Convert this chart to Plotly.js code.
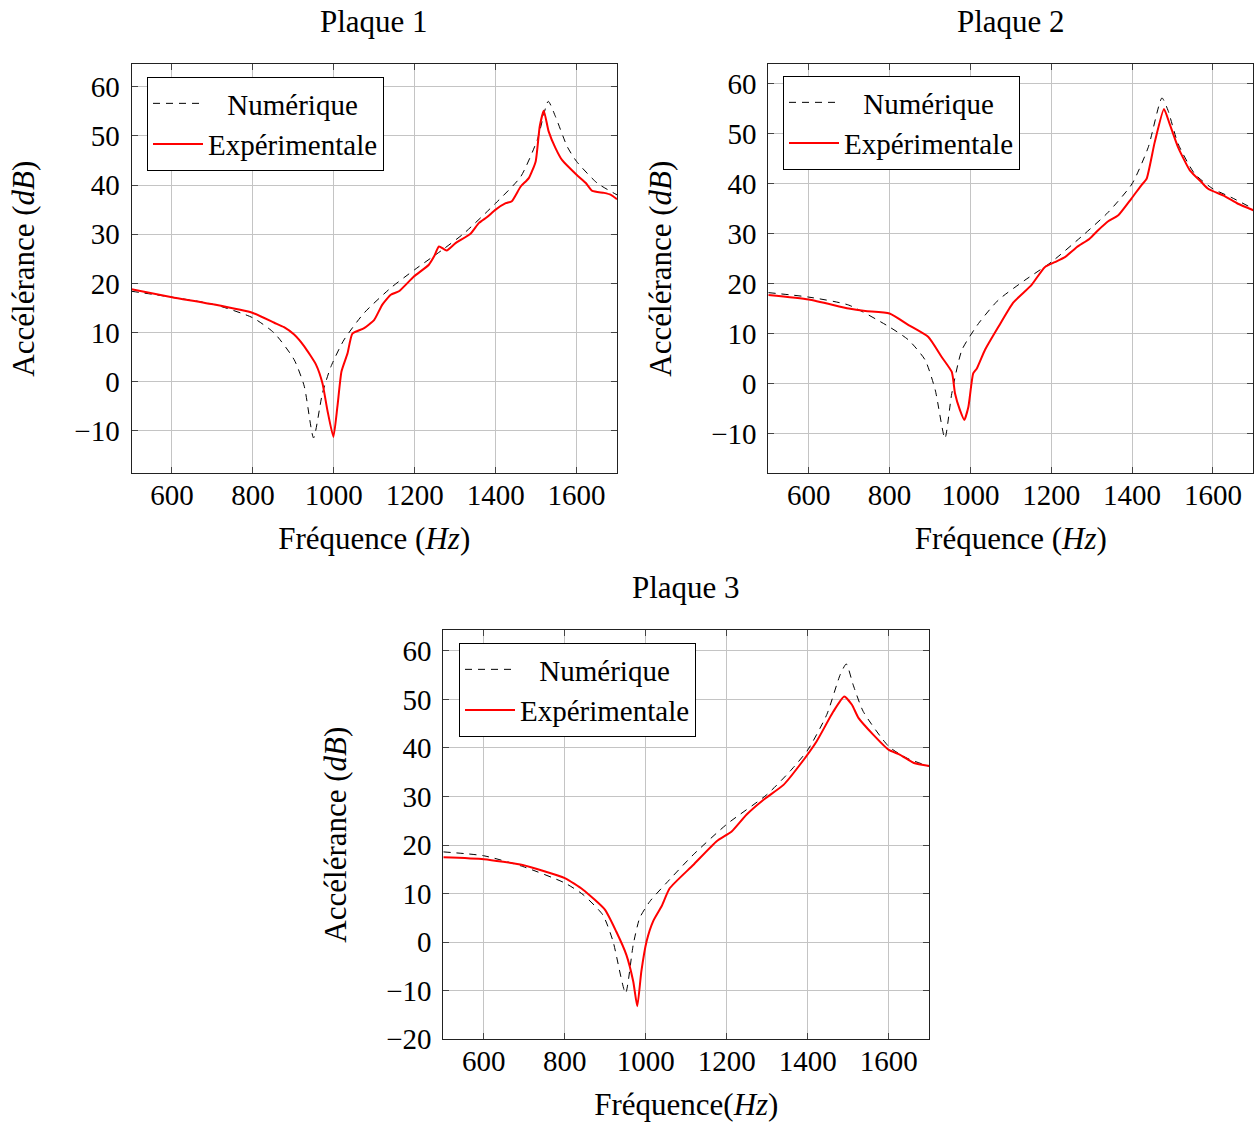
<!DOCTYPE html>
<html>
<head>
<meta charset="utf-8">
<script src="https://cdn.plot.ly/plotly-3.0.1.min.js"></script>
<style>html,body{margin:0;padding:0;background:#fff;}</style>
</head>
<body>
<div id="chart" style="width:1255px;height:1125px;"></div>
<script>
// Plaque 1
const p1NumFreq = [500,600,705,800,853,902,927,950,972,993,1025,1075,1141,1200,1268,1322,1400,1462,1503,1530,1548,1577,1600,1651,1700];
const p1NumDb   = [18.4,17.2,15.7,13.0,9.9,4.5,-0.9,-11.4,-2.3,3.1,8.5,14.0,19.1,22.8,26.8,30.2,36.3,41.7,49.2,57.0,53.9,47.8,44.8,40.4,38.0];
const p1ExpFreq = [500,600,705,800,853,877,902,927,956,972,984,999,1009,1019,1034,1046,1075,1100,1120,1141,1161,1198,1235,1248,1260,1279,1301,1338,1359,1379,1400,1425,1440,1462,1482,1499,1509,1519,1531,1548,1564,1600,1623,1639,1668,1685,1700];
const p1ExpDb   = [18.8,17.2,15.7,14.0,12.0,11.1,9.6,7.2,3.5,-0.3,-5.7,-11.2,-5.0,2.1,5.8,9.8,10.9,12.6,15.7,17.7,18.4,21.4,23.8,25.5,27.5,26.7,28.2,30.1,32.3,33.5,35.0,36.3,36.7,39.7,41.4,44.8,51.9,55.1,50.9,47.5,45.1,42.1,40.4,38.8,38.4,38.0,37.1];
// Plaque 2
const p2NumFreq = [500,600,699,800,847,888,913,937,954,979,1020,1069,1135,1200,1283,1341,1400,1440,1474,1489,1514,1555,1600,1645,1700];
const p2NumDb   = [18.2,17.3,15.7,11.3,8.7,4.7,-1.3,-11.0,-2.0,6.7,12.0,16.7,20.7,24.3,30.0,34.3,40.0,47.3,57.2,54.7,48.0,42.0,39.0,37.3,35.0];
const p2ExpFreq = [500,600,699,740,800,847,896,929,954,962,974,985,995,1007,1016,1036,1069,1106,1151,1184,1209,1234,1263,1295,1316,1341,1366,1398,1423,1436,1456,1479,1493,1514,1543,1572,1588,1630,1662,1700];
const p2ExpDb   = [17.7,16.8,15.0,14.5,14.0,11.7,9.3,5.3,2.3,-2.0,-5.3,-7.3,-4.7,2.0,3.0,6.7,11.3,16.2,19.7,23.3,24.3,25.3,27.3,29.0,30.7,32.5,33.7,37.0,39.7,41.0,48.3,55.0,52.0,47.3,42.7,40.3,39.0,37.5,36.0,34.7];
// Plaque 3
const p3NumFreq = [500,600,696,800,845,894,919,950,969,985,1010,1051,1117,1200,1299,1356,1400,1447,1480,1495,1512,1537,1600,1645,1700];
const p3NumDb   = [18.6,17.8,15.6,12.2,9.8,5.6,0.2,-10.5,-0.5,5.0,8.4,12.2,18.0,24.3,30.4,35.2,39.6,46.9,55.1,57.3,53.0,47.5,40.3,37.9,36.2];
const p3ExpFreq = [500,600,696,800,845,899,927,952,969,979,989,1002,1018,1039,1059,1117,1175,1212,1249,1290,1340,1381,1422,1463,1490,1509,1525,1562,1600,1628,1662,1700];
const p3ExpDb   = [17.5,17.1,15.9,13.2,10.8,6.7,2.2,-2.6,-8.1,-13.2,-6.0,0.2,4.3,7.4,11.1,15.9,20.8,22.8,26.3,29.3,32.4,36.6,41.4,47.5,50.6,48.9,46.2,42.7,39.6,38.6,36.9,36.3];

const titles = ['Plaque 1','Plaque 2','Plaque 3'];
const legendNames = ['\u2004\u2004Numérique','Expérimentale'];
const xTitles = ['Fréquence (<i>Hz</i>)','Fréquence (<i>Hz</i>)','Fréquence(<i>Hz</i>)'];
const yTitle = 'Accélérance (<i>dB</i>)';
const xTicks = [600,800,1000,1200,1400,1600];

const FONT = 'Liberation Serif, serif';
const FS = 31;   // text
const TS = 29;   // tick labels
const LS = 29;   // legend

const series = [
  [p1NumFreq,p1NumDb,p1ExpFreq,p1ExpDb],
  [p2NumFreq,p2NumDb,p2ExpFreq,p2ExpDb],
  [p3NumFreq,p3NumDb,p3ExpFreq,p3ExpDb]
];
const legendIds = ['legend','legend2','legend3'];
const traces = [];
series.forEach((s,i)=>{
  const xa = i===0?'x':'x'+(i+1), ya = i===0?'y':'y'+(i+1);
  traces.push({x:s[0],y:s[1],xaxis:xa,yaxis:ya,mode:'lines',name:legendNames[0],
    line:{color:'black',width:1,dash:'7px,6px',shape:'spline',smoothing:0.6},legend:legendIds[i]});
  traces.push({x:s[2],y:s[3],xaxis:xa,yaxis:ya,mode:'lines',name:legendNames[1],
    line:{color:'#ff0000',width:2,shape:'spline',smoothing:0.5},legend:legendIds[i]});
});

const W=1255,H=1125;
const dom = [
  {x:[131.5/W,617/W], y:[1-473.3/H,1-64/H], yr:[-18.6,64.6]},
  {x:[768.3/W,1253.3/W], y:[1-473.3/H,1-64/H], yr:[-18,64]},
  {x:[443.3/W,929.3/W], y:[1-1039.3/H,1-630/H], yr:[-20,64.3]}
];
function xax(i){return {domain:dom[i].x,range:[500,1700],tickvals:xTicks,ticks:'inside',ticklen:6,tickcolor:'#444',
  showline:true,linecolor:'#222',linewidth:1,mirror:'ticks',showgrid:true,gridcolor:'#c4c4c4',gridwidth:1,zeroline:false,
  anchor:i===0?'y':'y'+(i+1),automargin:false,ticklabelstandoff:-4,tickfont:{family:FONT,size:TS,color:'#000'},
  title:{text:xTitles[i],font:{family:FONT,size:FS,color:'#000'},standoff:17}};}
function yax(i){return {domain:dom[i].y,range:dom[i].yr,dtick:10,ticks:'inside',ticklen:6,tickcolor:'#444',
  showline:true,linecolor:'#222',linewidth:1,mirror:'ticks',showgrid:true,gridcolor:'#c4c4c4',gridwidth:1,zeroline:false,
  anchor:i===0?'x':'x'+(i+1),automargin:false,ticklabelstandoff:5,tickfont:{family:FONT,size:TS,color:'#000'},
  title:{text:yTitle,font:{family:FONT,size:FS,color:'#000'},standoff:30}};}
function leg(x,y){return {x:x,y:y,xanchor:'left',yanchor:'top',bgcolor:'#fff',bordercolor:'#000',borderwidth:1,
  font:{family:FONT,size:LS,color:'#000'},tracegroupgap:0,itemwidth:50};}
function ttl(i,ypx){return {text:titles[i],x:(dom[i].x[0]+dom[i].x[1])/2,y:1-ypx/H,xref:'paper',yref:'paper',
  xanchor:'center',yanchor:'middle',showarrow:false,font:{family:FONT,size:FS,color:'#000'}};}

const layout = {
  width:W,height:H,margin:{l:0,r:0,t:0,b:0},paper_bgcolor:'#fff',plot_bgcolor:'#fff',
  showlegend:true,
  xaxis:xax(0),yaxis:yax(0),xaxis2:xax(1),yaxis2:yax(1),xaxis3:xax(2),yaxis3:yax(2),
  legend:leg(147/W,1-77/H),legend2:leg(783/W,1-76/H),legend3:leg(459/W,1-643/H),
  annotations:[ttl(0,21),ttl(1,21),ttl(2,587)]
};
Plotly.newPlot('chart',traces,layout,{staticPlot:true});
</script>
</body>
</html>
